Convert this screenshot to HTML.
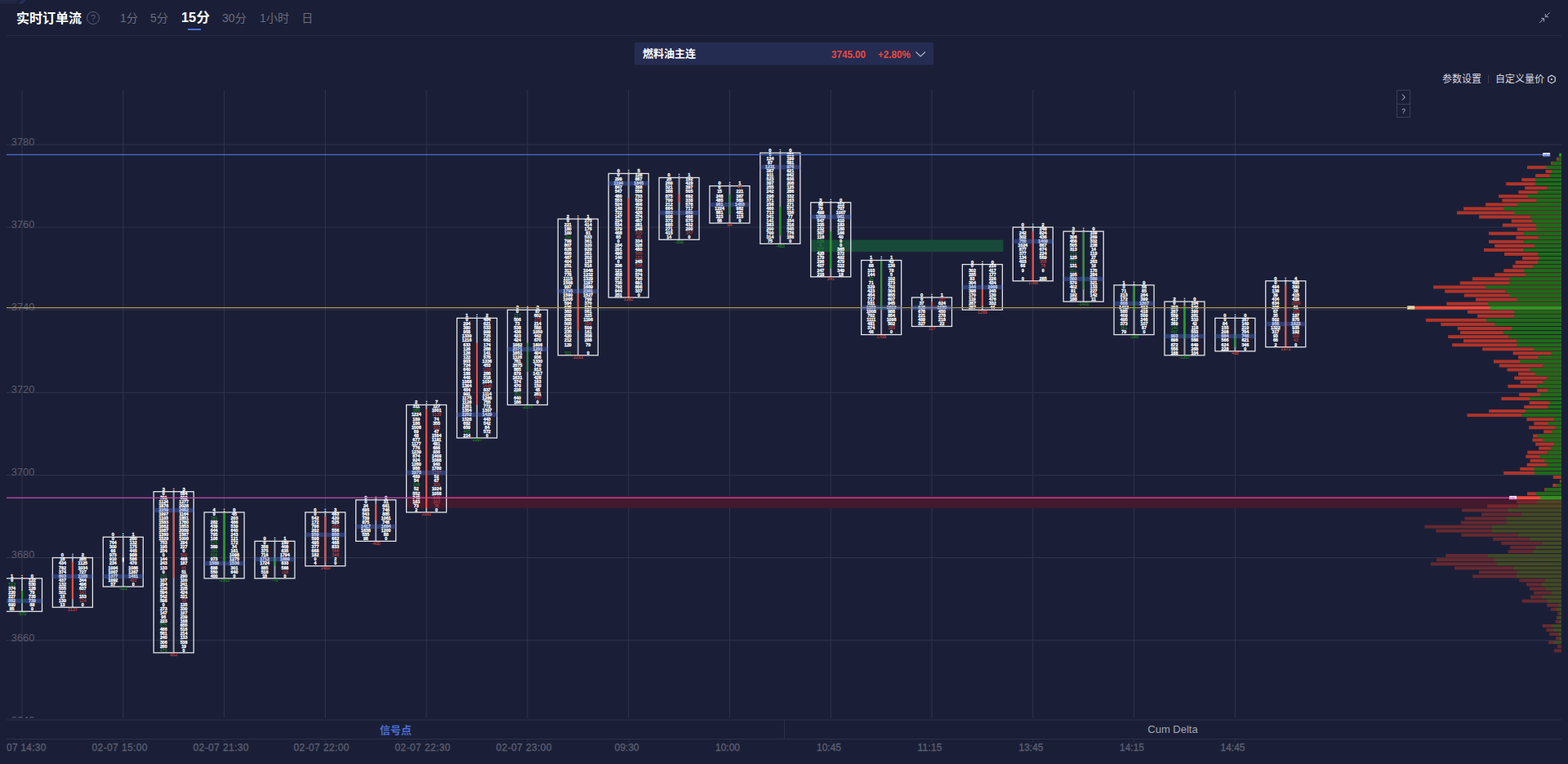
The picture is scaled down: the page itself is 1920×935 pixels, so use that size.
<!DOCTYPE html><html><head><meta charset="utf-8"><title>Order Flow</title><style>html,body{margin:0;padding:0;background:#1a1f37;width:1920px;height:935px;overflow:hidden}svg{display:block;font-family:"Liberation Sans",sans-serif}.n{font-weight:bold;fill:#f4f4f6;text-anchor:middle}.g{fill:#239a23}.r{fill:#e04a3c}.d{font-weight:normal;text-anchor:middle}</style></head><body>
<svg width="1920" height="935" viewBox="0 0 1920 935">
<rect width="1920" height="935" fill="#1a1f37"/>
<path d="M0 0H23.5L19 4.8H0Z" fill="#202644"/><path d="M26.8 0H32L27.3 4.8H22.2Z" fill="#263058"/>
<text x="20" y="27.6" font-size="16" font-weight="bold" fill="#ffffff" font-family="'Liberation Sans','Noto Sans CJK SC',sans-serif">实时订单流</text>
<circle cx="114" cy="22" r="7.5" fill="none" stroke="#5b5e70" stroke-width="1"/>
<text x="114" y="26" font-size="11" text-anchor="middle" fill="#5b5e70">?</text>
<text x="147" y="26.7" font-size="14" fill="#6a6d7c">1</text>
<text x="155" y="26.7" font-size="14" fill="#6a6d7c" font-family="'Liberation Sans','Noto Sans CJK SC',sans-serif">分</text>
<text x="184" y="26.7" font-size="14" fill="#6a6d7c">5</text>
<text x="192" y="26.7" font-size="14" fill="#6a6d7c" font-family="'Liberation Sans','Noto Sans CJK SC',sans-serif">分</text>
<text x="222" y="27.3" font-size="16.4" fill="#ffffff" font-weight="bold">15</text>
<text x="240.4" y="27.3" font-size="16.4" font-weight="bold" fill="#ffffff" font-family="'Liberation Sans','Noto Sans CJK SC',sans-serif">分</text>
<text x="272" y="26.7" font-size="14" fill="#6a6d7c">30</text>
<text x="287.8" y="26.7" font-size="14" fill="#6a6d7c" font-family="'Liberation Sans','Noto Sans CJK SC',sans-serif">分</text>
<text x="318" y="26.7" font-size="14" fill="#6a6d7c">1</text>
<text x="326" y="26.7" font-size="14" fill="#6a6d7c" font-family="'Liberation Sans','Noto Sans CJK SC',sans-serif">小时</text>
<text x="369.3" y="26.7" font-size="14" fill="#6a6d7c" font-family="'Liberation Sans','Noto Sans CJK SC',sans-serif">日</text>
<rect x="230" y="35" width="16" height="2" fill="#4b6ed6"/>
<rect x="8" y="43" width="1904" height="1" fill="#262a40"/>
<g stroke="#a2a4b2" stroke-width="1" fill="none"><path d="M1897.8 15.2L1892.3 20.7M1892.3 17V20.7H1896.1M1885.1 27.8L1890.6 22.5M1887.2 22.5H1890.6V26.4"/></g>
<rect x="777" y="52" width="366" height="27.5" rx="2" fill="#252c52"/>
<text x="787" y="70" font-size="13" font-weight="bold" fill="#ffffff" font-family="'Liberation Sans','Noto Sans CJK SC',sans-serif">燃料油主连</text>
<text x="1018" y="71" font-size="12" font-weight="bold" fill="#f0483e" textLength="42" lengthAdjust="spacingAndGlyphs">3745.00</text>
<text x="1075" y="71" font-size="12" font-weight="bold" fill="#f0483e" textLength="40" lengthAdjust="spacingAndGlyphs">+2.80%</text>
<path d="M1121.5 63.5L1127.2 69L1133 63.5" fill="none" stroke="#b4b6c2" stroke-width="1.1"/>
<text x="1766" y="101.2" font-size="12" fill="#d9dae2" font-family="'Liberation Sans','Noto Sans CJK SC',sans-serif">参数设置</text>
<rect x="1822" y="92" width="1" height="10" fill="#3a3e55"/>
<text x="1831" y="101.2" font-size="12" fill="#d9dae2" font-family="'Liberation Sans','Noto Sans CJK SC',sans-serif">自定义量价</text>
<path d="M1900 92.2L1904.2 94.6V99.5L1900 101.9L1895.8 99.5V94.6Z" fill="none" stroke="#d9dae2" stroke-width="1.2"/><circle cx="1900" cy="97.1" r="1.1" fill="#d9dae2"/>
<rect x="1710.5" y="110.5" width="16" height="17" fill="none" stroke="#3a3e55"/><rect x="1710.5" y="127.5" width="16" height="16" fill="none" stroke="#3a3e55"/>
<path d="M1717 115.5L1720.3 119L1717 122.5" fill="none" stroke="#c9cad4" stroke-width="1"/>
<text x="1718.5" y="139.3" font-size="8.5" text-anchor="middle" fill="#b9bac6">?</text>
<defs><clipPath id="cc"><rect x="8" y="100" width="1904" height="779"/></clipPath></defs>
<g clip-path="url(#cc)">
<rect x="26.5" y="110" width="1" height="771" fill="#30344b"/>
<rect x="150.28" y="110" width="1" height="771" fill="#30344b"/>
<rect x="274.06" y="110" width="1" height="771" fill="#30344b"/>
<rect x="397.84" y="110" width="1" height="771" fill="#30344b"/>
<rect x="521.62" y="110" width="1" height="771" fill="#30344b"/>
<rect x="645.4" y="110" width="1" height="771" fill="#30344b"/>
<rect x="769.18" y="110" width="1" height="771" fill="#30344b"/>
<rect x="892.96" y="110" width="1" height="771" fill="#30344b"/>
<rect x="1016.74" y="110" width="1" height="771" fill="#30344b"/>
<rect x="1140.52" y="110" width="1" height="771" fill="#30344b"/>
<rect x="1264.3" y="110" width="1" height="771" fill="#30344b"/>
<rect x="1388.08" y="110" width="1" height="771" fill="#30344b"/>
<rect x="1511.86" y="110" width="1" height="771" fill="#30344b"/>
<rect x="8" y="176.5" width="1904" height="1" fill="#30344b"/>
<text x="13.8" y="177.9" font-size="12.8" fill="#595c6d">3780</text>
<rect x="8" y="277.61" width="1904" height="1" fill="#30344b"/>
<text x="13.8" y="279.01" font-size="12.8" fill="#595c6d">3760</text>
<rect x="8" y="378.72" width="1904" height="1" fill="#30344b"/>
<text x="13.8" y="380.12" font-size="12.8" fill="#595c6d">3740</text>
<rect x="8" y="479.84" width="1904" height="1" fill="#30344b"/>
<text x="13.8" y="481.24" font-size="12.8" fill="#595c6d">3720</text>
<rect x="8" y="580.95" width="1904" height="1" fill="#30344b"/>
<text x="13.8" y="582.35" font-size="12.8" fill="#595c6d">3700</text>
<rect x="8" y="682.06" width="1904" height="1" fill="#30344b"/>
<text x="13.8" y="683.46" font-size="12.8" fill="#595c6d">3680</text>
<rect x="8" y="783.17" width="1904" height="1" fill="#30344b"/>
<text x="13.8" y="784.57" font-size="12.8" fill="#595c6d">3660</text>
<rect x="8" y="884.28" width="1904" height="1" fill="#30344b"/>
<text x="13.8" y="885.68" font-size="12.8" fill="#595c6d">3640</text>
<rect x="992" y="293.58" width="236.5" height="14.57" fill="#184a3a"/>
<rect x="497" y="607" width="1415" height="14.8" fill="#43192e"/>
<rect x="26" y="707.84" width="2" height="40.44" fill="#a2a3ae"/>
<rect x="26.05" y="723" width="1.9" height="15.17" fill="#1f9d1f"/>
<rect x="2.5" y="707.84" width="49" height="40.44" fill="none" stroke="#e4e4ea" stroke-width="1.3"/>
<rect x="87.89" y="682.56" width="2" height="60.67" fill="#a2a3ae"/>
<rect x="87.94" y="687.62" width="1.9" height="45.5" fill="#f04a3c"/>
<rect x="64.39" y="682.56" width="49" height="60.67" fill="none" stroke="#e4e4ea" stroke-width="1.3"/>
<rect x="149.78" y="657.28" width="2" height="60.67" fill="#a2a3ae"/>
<rect x="149.83" y="682.56" width="1.9" height="5.06" fill="#ffffff"/>
<rect x="126.28" y="657.28" width="49" height="60.67" fill="none" stroke="#e4e4ea" stroke-width="1.3"/>
<rect x="211.67" y="601.67" width="2" height="197.17" fill="#a2a3ae"/>
<rect x="211.72" y="626.95" width="1.9" height="80.89" fill="#f04a3c"/>
<rect x="188.17" y="601.67" width="49" height="197.17" fill="none" stroke="#e4e4ea" stroke-width="1.3"/>
<rect x="273.56" y="626.95" width="2" height="80.89" fill="#a2a3ae"/>
<rect x="273.61" y="626.95" width="1.9" height="60.67" fill="#1f9d1f"/>
<rect x="250.06" y="626.95" width="49" height="80.89" fill="none" stroke="#e4e4ea" stroke-width="1.3"/>
<rect x="335.45" y="662.34" width="2" height="45.5" fill="#a2a3ae"/>
<rect x="335.5" y="682.56" width="1.9" height="10.11" fill="#1f9d1f"/>
<rect x="311.95" y="662.34" width="49" height="45.5" fill="none" stroke="#e4e4ea" stroke-width="1.3"/>
<rect x="397.34" y="626.95" width="2" height="65.72" fill="#a2a3ae"/>
<rect x="397.39" y="632" width="1.9" height="55.61" fill="#f04a3c"/>
<rect x="373.84" y="626.95" width="49" height="65.72" fill="none" stroke="#e4e4ea" stroke-width="1.3"/>
<rect x="459.23" y="611.78" width="2" height="50.56" fill="#a2a3ae"/>
<rect x="459.28" y="616.84" width="1.9" height="20.22" fill="#f04a3c"/>
<rect x="435.73" y="611.78" width="49" height="50.56" fill="none" stroke="#e4e4ea" stroke-width="1.3"/>
<rect x="521.12" y="495.5" width="2" height="131.45" fill="#a2a3ae"/>
<rect x="521.17" y="500.56" width="1.9" height="121.33" fill="#f04a3c"/>
<rect x="497.62" y="495.5" width="49" height="131.45" fill="none" stroke="#e4e4ea" stroke-width="1.3"/>
<rect x="583.01" y="389.34" width="2" height="146.61" fill="#a2a3ae"/>
<rect x="583.06" y="419.67" width="1.9" height="75.83" fill="#f04a3c"/>
<rect x="559.51" y="389.34" width="49" height="146.61" fill="none" stroke="#e4e4ea" stroke-width="1.3"/>
<rect x="644.9" y="379.22" width="2" height="116.28" fill="#a2a3ae"/>
<rect x="644.95" y="419.67" width="1.9" height="35.39" fill="#1f9d1f"/>
<rect x="621.4" y="379.22" width="49" height="116.28" fill="none" stroke="#e4e4ea" stroke-width="1.3"/>
<rect x="706.79" y="268" width="2" height="166.83" fill="#a2a3ae"/>
<rect x="706.84" y="359" width="1.9" height="45.5" fill="#f04a3c"/>
<rect x="683.29" y="268" width="49" height="166.83" fill="none" stroke="#e4e4ea" stroke-width="1.3"/>
<rect x="768.68" y="212.39" width="2" height="151.67" fill="#a2a3ae"/>
<rect x="768.73" y="242.72" width="1.9" height="121.33" fill="#f04a3c"/>
<rect x="745.18" y="212.39" width="49" height="151.67" fill="none" stroke="#e4e4ea" stroke-width="1.3"/>
<rect x="830.57" y="217.44" width="2" height="75.83" fill="#a2a3ae"/>
<rect x="830.62" y="237.67" width="1.9" height="10.11" fill="#f04a3c"/>
<rect x="807.07" y="217.44" width="49" height="75.83" fill="none" stroke="#e4e4ea" stroke-width="1.3"/>
<rect x="892.46" y="227.56" width="2" height="45.5" fill="#a2a3ae"/>
<rect x="892.51" y="237.67" width="1.9" height="25.28" fill="#1f9d1f"/>
<rect x="868.96" y="227.56" width="49" height="45.5" fill="none" stroke="#e4e4ea" stroke-width="1.3"/>
<rect x="954.35" y="187.11" width="2" height="111.22" fill="#a2a3ae"/>
<rect x="954.4" y="252.83" width="1.9" height="35.39" fill="#1f9d1f"/>
<rect x="930.85" y="187.11" width="49" height="111.22" fill="none" stroke="#e4e4ea" stroke-width="1.3"/>
<rect x="1016.24" y="247.78" width="2" height="91" fill="#a2a3ae"/>
<rect x="1016.29" y="283.17" width="1.9" height="45.5" fill="#1f9d1f"/>
<rect x="992.74" y="247.78" width="49" height="91" fill="none" stroke="#e4e4ea" stroke-width="1.3"/>
<rect x="1078.13" y="318.56" width="2" height="91" fill="#a2a3ae"/>
<rect x="1078.18" y="318.56" width="1.9" height="60.67" fill="#1f9d1f"/>
<rect x="1054.63" y="318.56" width="49" height="91" fill="none" stroke="#e4e4ea" stroke-width="1.3"/>
<rect x="1140.02" y="364.06" width="2" height="35.39" fill="#a2a3ae"/>
<rect x="1140.07" y="369.11" width="1.9" height="10.11" fill="#f04a3c"/>
<rect x="1116.52" y="364.06" width="49" height="35.39" fill="none" stroke="#e4e4ea" stroke-width="1.3"/>
<rect x="1201.91" y="323.61" width="2" height="55.61" fill="#a2a3ae"/>
<rect x="1201.96" y="353.95" width="1.9" height="20.22" fill="#f04a3c"/>
<rect x="1178.41" y="323.61" width="49" height="55.61" fill="none" stroke="#e4e4ea" stroke-width="1.3"/>
<rect x="1263.8" y="278.11" width="2" height="65.72" fill="#a2a3ae"/>
<rect x="1263.85" y="283.17" width="1.9" height="60.67" fill="#f04a3c"/>
<rect x="1240.3" y="278.11" width="49" height="65.72" fill="none" stroke="#e4e4ea" stroke-width="1.3"/>
<rect x="1325.69" y="283.17" width="2" height="85.95" fill="#a2a3ae"/>
<rect x="1325.74" y="283.17" width="1.9" height="70.78" fill="#1f9d1f"/>
<rect x="1302.19" y="283.17" width="49" height="85.95" fill="none" stroke="#e4e4ea" stroke-width="1.3"/>
<rect x="1387.58" y="348.89" width="2" height="60.67" fill="#a2a3ae"/>
<rect x="1387.63" y="348.89" width="1.9" height="30.33" fill="#1f9d1f"/>
<rect x="1364.08" y="348.89" width="49" height="60.67" fill="none" stroke="#e4e4ea" stroke-width="1.3"/>
<rect x="1449.47" y="369.11" width="2" height="65.72" fill="#a2a3ae"/>
<rect x="1449.52" y="374.17" width="1.9" height="40.44" fill="#1f9d1f"/>
<rect x="1425.97" y="369.11" width="49" height="65.72" fill="none" stroke="#e4e4ea" stroke-width="1.3"/>
<rect x="1511.36" y="389.34" width="2" height="40.44" fill="#a2a3ae"/>
<rect x="1511.41" y="409.56" width="1.9" height="15.17" fill="#1f9d1f"/>
<rect x="1487.86" y="389.34" width="49" height="40.44" fill="none" stroke="#e4e4ea" stroke-width="1.3"/>
<rect x="1573.25" y="343.83" width="2" height="80.89" fill="#a2a3ae"/>
<rect x="1573.3" y="348.89" width="1.9" height="75.83" fill="#f04a3c"/>
<rect x="1549.75" y="343.83" width="49" height="80.89" fill="none" stroke="#e4e4ea" stroke-width="1.3"/>
<g fill="#ffffff" stroke="#ffffff" stroke-width="0.28" font-size="5.25" font-weight="bold" text-anchor="middle">
<g font-size="5.8">
<text y="706.74"><tspan x="14.6">1</tspan><tspan x="27">:</tspan><tspan x="39.4">0</tspan></text>
<text y="681.46"><tspan x="76.49">0</tspan><tspan x="88.89">:</tspan><tspan x="101.29">2</tspan></text>
<text y="656.18"><tspan x="138.38">0</tspan><tspan x="150.78">:</tspan><tspan x="163.18">1</tspan></text>
<text y="600.57"><tspan x="200.27">3</tspan><tspan x="212.67">:</tspan><tspan x="225.07">3</tspan></text>
<text y="625.85"><tspan x="262.16">4</tspan><tspan x="274.56">:</tspan><tspan x="286.96">0</tspan></text>
<text y="661.24"><tspan x="324.05">0</tspan><tspan x="336.45">:</tspan><tspan x="348.85">1</tspan></text>
<text y="625.85"><tspan x="385.94">0</tspan><tspan x="398.34">:</tspan><tspan x="410.74">3</tspan></text>
<text y="610.68"><tspan x="447.83">0</tspan><tspan x="460.23">:</tspan><tspan x="472.63">0</tspan></text>
<text y="494.4"><tspan x="509.72">2</tspan><tspan x="522.12">:</tspan><tspan x="534.52">7</tspan></text>
<text y="388.24"><tspan x="571.61">1</tspan><tspan x="584.01">:</tspan><tspan x="596.41">2</tspan></text>
<text y="378.12"><tspan x="633.5">2</tspan><tspan x="645.9">:</tspan><tspan x="658.3">2</tspan></text>
<text y="266.9"><tspan x="695.39">2</tspan><tspan x="707.79">:</tspan><tspan x="720.19">1</tspan></text>
<text y="211.29"><tspan x="757.28">0</tspan><tspan x="769.68">:</tspan><tspan x="782.08">5</tspan></text>
<text y="216.34"><tspan x="819.17">0</tspan><tspan x="831.57">:</tspan><tspan x="843.97">1</tspan></text>
<text y="226.46"><tspan x="881.06">0</tspan><tspan x="893.46">:</tspan><tspan x="905.86">1</tspan></text>
<text y="186.01"><tspan x="942.95">0</tspan><tspan x="955.35">:</tspan><tspan x="967.75">0</tspan></text>
<text y="246.68"><tspan x="1004.84">3</tspan><tspan x="1017.24">:</tspan><tspan x="1029.64">0</tspan></text>
<text y="317.46"><tspan x="1066.73">1</tspan><tspan x="1079.13">:</tspan><tspan x="1091.53">1</tspan></text>
<text y="362.96"><tspan x="1128.62">0</tspan><tspan x="1141.02">:</tspan><tspan x="1153.42">1</tspan></text>
<text y="322.51"><tspan x="1190.51">0</tspan><tspan x="1202.91">:</tspan><tspan x="1215.31">0</tspan></text>
<text y="277.01"><tspan x="1252.4">0</tspan><tspan x="1264.8">:</tspan><tspan x="1277.2">2</tspan></text>
<text y="282.07"><tspan x="1314.29">3</tspan><tspan x="1326.69">:</tspan><tspan x="1339.09">0</tspan></text>
<text y="347.79"><tspan x="1376.18">1</tspan><tspan x="1388.58">:</tspan><tspan x="1400.98">0</tspan></text>
<text y="368.01"><tspan x="1438.07">2</tspan><tspan x="1450.47">:</tspan><tspan x="1462.87">0</tspan></text>
<text y="388.24"><tspan x="1499.96">0</tspan><tspan x="1512.36">:</tspan><tspan x="1524.76">0</tspan></text>
<text y="342.73"><tspan x="1561.85">0</tspan><tspan x="1574.25">:</tspan><tspan x="1586.65">4</tspan></text>
</g>
<g transform="translate(14.6)"><text y="712">0</text><text y="722">374</text><text y="727">220</text><text y="732">227</text><text y="737">882</text><text y="742">690</text><text y="747">85</text></g>
<g transform="translate(39.4)"><text y="712">122</text><text y="717">530</text><text y="722">128</text><text y="727">79</text><text y="732">735</text><text y="737">739</text><text y="742">88</text><text y="747">0</text></g>
<g transform="translate(76.49)"><text y="686">18</text><text y="691">434</text><text y="697">782</text><text y="702">374</text><text y="707">803</text><text y="712">437</text><text y="717">132</text><text y="722">555</text><text y="727">301</text><text y="732">15</text><text y="737">130</text><text y="742">13</text></g>
<g transform="translate(101.29)"><text y="686">285</text><text y="691">1125</text><text y="697">1034</text><text y="702">727</text><text y="707">1103</text><text y="712">344</text><text y="717">496</text><text y="722">637</text><text y="732">153</text><text y="742">0</text></g>
<g transform="translate(138.38)"><text y="661">0</text><text y="666">764</text><text y="671">300</text><text y="676">66</text><text y="681">973</text><text y="686">910</text><text y="691">234</text><text y="697">1094</text><text y="702">1007</text><text y="707">1377</text><text y="712">1092</text><text y="717">57</text></g>
<g transform="translate(163.18)"><text y="661">280</text><text y="666">132</text><text y="671">175</text><text y="676">445</text><text y="681">988</text><text y="686">586</text><text y="691">470</text><text y="697">1086</text><text y="702">1287</text><text y="707">1481</text><text y="717">0</text></g>
<g transform="translate(200.27)"><text y="606">0</text><text y="611">791</text><text y="616">1124</text><text y="621">1878</text><text y="626">2259</text><text y="631">1997</text><text y="636">1103</text><text y="641">1583</text><text y="646">1662</text><text y="651">1087</text><text y="656">1360</text><text y="661">1529</text><text y="666">753</text><text y="671">195</text><text y="676">234</text><text y="681">0</text><text y="686">144</text><text y="691">243</text><text y="697">133</text><text y="702">0</text><text y="712">107</text><text y="717">294</text><text y="722">129</text><text y="727">594</text><text y="732">542</text><text y="737">596</text><text y="742">0</text><text y="747">273</text><text y="752">147</text><text y="757">96</text><text y="762">223</text><text y="772">466</text><text y="777">561</text><text y="782">240</text><text y="788">306</text><text y="793">260</text></g>
<g transform="translate(225.07)"><text y="606">584</text><text y="611">802</text><text y="616">1277</text><text y="621">2028</text><text y="626">2682</text><text y="631">1164</text><text y="636">1851</text><text y="641">1780</text><text y="646">1653</text><text y="651">2069</text><text y="656">1567</text><text y="661">1000</text><text y="666">294</text><text y="671">227</text><text y="676">0</text><text y="686">466</text><text y="691">187</text><text y="702">51</text><text y="707">290</text><text y="712">100</text><text y="717">241</text><text y="722">228</text><text y="727">424</text><text y="732">321</text><text y="742">135</text><text y="747">330</text><text y="752">107</text><text y="757">239</text><text y="762">168</text><text y="767">655</text><text y="772">516</text><text y="777">214</text><text y="782">133</text><text y="788">538</text><text y="793">19</text><text y="798">0</text></g>
<g transform="translate(262.16)"><text y="631">0</text><text y="641">282</text><text y="646">439</text><text y="651">644</text><text y="656">795</text><text y="661">106</text><text y="671">389</text><text y="686">973</text><text y="691">1589</text><text y="697">888</text><text y="702">550</text><text y="707">400</text></g>
<g transform="translate(286.96)"><text y="631">45</text><text y="636">203</text><text y="641">486</text><text y="646">539</text><text y="651">640</text><text y="656">243</text><text y="661">121</text><text y="666">172</text><text y="671">34</text><text y="676">161</text><text y="681">1096</text><text y="686">1275</text><text y="691">1538</text><text y="697">301</text><text y="702">640</text><text y="707">0</text></g>
<g transform="translate(324.05)"><text y="666">0</text><text y="671">356</text><text y="676">375</text><text y="681">716</text><text y="686">1712</text><text y="691">1724</text><text y="697">885</text><text y="702">518</text><text y="707">18</text></g>
<g transform="translate(348.85)"><text y="666">160</text><text y="671">408</text><text y="676">635</text><text y="681">1794</text><text y="686">1689</text><text y="691">833</text><text y="697">588</text><text y="707">0</text></g>
<g transform="translate(385.94)"><text y="631">0</text><text y="636">542</text><text y="641">172</text><text y="646">796</text><text y="651">202</text><text y="656">959</text><text y="661">598</text><text y="666">495</text><text y="671">377</text><text y="676">668</text><text y="681">182</text><text y="686">0</text><text y="691">4</text></g>
<g transform="translate(410.74)"><text y="631">483</text><text y="636">420</text><text y="641">525</text><text y="651">556</text><text y="656">858</text><text y="661">662</text><text y="666">468</text><text y="671">833</text><text y="686">2</text><text y="691">0</text></g>
<g transform="translate(447.83)"><text y="616">0</text><text y="621">24</text><text y="626">695</text><text y="631">543</text><text y="636">739</text><text y="641">875</text><text y="646">1417</text><text y="651">1638</text><text y="656">535</text><text y="661">98</text></g>
<g transform="translate(472.63)"><text y="616">31</text><text y="621">661</text><text y="626">746</text><text y="631">885</text><text y="636">1061</text><text y="641">748</text><text y="646">1684</text><text y="651">1200</text><text y="656">88</text><text y="661">0</text></g>
<g transform="translate(509.72)"><text y="499">311</text><text y="509">1224</text><text y="515">189</text><text y="520">186</text><text y="525">1008</text><text y="530">69</text><text y="535">48</text><text y="540">677</text><text y="545">1177</text><text y="550">776</text><text y="555">1239</text><text y="560">874</text><text y="565">924</text><text y="570">1280</text><text y="575">988</text><text y="580">1973</text><text y="585">489</text><text y="590">54</text><text y="600">52</text><text y="606">552</text><text y="611">745</text><text y="616">163</text><text y="621">73</text><text y="626">2</text></g>
<g transform="translate(534.52)"><text y="499">127</text><text y="504">1001</text><text y="515">74</text><text y="520">355</text><text y="530">47</text><text y="535">1564</text><text y="540">1181</text><text y="545">481</text><text y="550">686</text><text y="555">936</text><text y="560">1409</text><text y="565">1088</text><text y="570">940</text><text y="575">1780</text><text y="585">52</text><text y="590">67</text><text y="600">1024</text><text y="606">1058</text><text y="626">0</text></g>
<g transform="translate(571.61)"><text y="393">0</text><text y="398">294</text><text y="403">380</text><text y="408">958</text><text y="413">1339</text><text y="418">1216</text><text y="424">633</text><text y="429">126</text><text y="434">126</text><text y="439">122</text><text y="444">903</text><text y="449">724</text><text y="454">640</text><text y="459">186</text><text y="464">446</text><text y="469">1068</text><text y="474">1364</text><text y="479">454</text><text y="484">991</text><text y="489">1175</text><text y="494">1128</text><text y="499">1201</text><text y="504">1354</text><text y="509">2252</text><text y="515">1528</text><text y="520">692</text><text y="525">659</text><text y="535">214</text></g>
<g transform="translate(596.41)"><text y="393">484</text><text y="398">621</text><text y="403">533</text><text y="408">999</text><text y="413">725</text><text y="418">682</text><text y="424">174</text><text y="429">288</text><text y="434">141</text><text y="439">578</text><text y="444">1336</text><text y="449">453</text><text y="459">286</text><text y="464">518</text><text y="469">1034</text><text y="479">837</text><text y="484">1114</text><text y="489">1266</text><text y="494">755</text><text y="499">772</text><text y="504">1307</text><text y="509">1429</text><text y="515">443</text><text y="520">542</text><text y="525">84</text><text y="530">572</text><text y="535">0</text></g>
<g transform="translate(633.5)"><text y="383">0</text><text y="393">506</text><text y="398">73</text><text y="403">538</text><text y="408">438</text><text y="413">423</text><text y="418">424</text><text y="424">1082</text><text y="429">2371</text><text y="434">1651</text><text y="439">1126</text><text y="444">781</text><text y="449">2075</text><text y="454">885</text><text y="459">879</text><text y="464">1631</text><text y="469">374</text><text y="474">470</text><text y="479">228</text><text y="489">640</text><text y="494">186</text></g>
<g transform="translate(658.3)"><text y="383">87</text><text y="388">602</text><text y="398">214</text><text y="403">588</text><text y="408">1050</text><text y="413">442</text><text y="418">670</text><text y="424">1606</text><text y="429">1231</text><text y="434">404</text><text y="439">936</text><text y="444">1330</text><text y="449">740</text><text y="454">913</text><text y="459">1417</text><text y="464">428</text><text y="469">163</text><text y="474">150</text><text y="479">45</text><text y="484">261</text><text y="494">0</text></g>
<g transform="translate(695.39)"><text y="272">0</text><text y="277">221</text><text y="282">180</text><text y="287">100</text><text y="297">799</text><text y="302">807</text><text y="307">828</text><text y="312">606</text><text y="317">487</text><text y="322">404</text><text y="327">251</text><text y="333">311</text><text y="338">778</text><text y="343">1115</text><text y="348">1508</text><text y="353">997</text><text y="358">1795</text><text y="363">1590</text><text y="368">1005</text><text y="373">594</text><text y="378">635</text><text y="383">383</text><text y="388">209</text><text y="393">363</text><text y="398">505</text><text y="403">214</text><text y="408">235</text><text y="413">420</text><text y="418">212</text><text y="424">129</text></g>
<g transform="translate(720.19)"><text y="272">275</text><text y="277">414</text><text y="282">176</text><text y="287">81</text><text y="292">533</text><text y="297">361</text><text y="302">320</text><text y="307">929</text><text y="312">261</text><text y="317">202</text><text y="322">128</text><text y="327">516</text><text y="333">1046</text><text y="338">1232</text><text y="343">1329</text><text y="348">1197</text><text y="353">1689</text><text y="358">2381</text><text y="363">1527</text><text y="368">799</text><text y="373">370</text><text y="378">829</text><text y="383">561</text><text y="388">325</text><text y="393">1106</text><text y="403">509</text><text y="408">161</text><text y="413">358</text><text y="418">288</text><text y="424">79</text><text y="434">0</text></g>
<g transform="translate(757.28)"><text y="216">0</text><text y="221">299</text><text y="226">1194</text><text y="231">847</text><text y="236">547</text><text y="242">480</text><text y="247">553</text><text y="252">524</text><text y="257">148</text><text y="262">722</text><text y="267">147</text><text y="272">224</text><text y="277">534</text><text y="282">379</text><text y="287">468</text><text y="292">65</text><text y="297">0</text><text y="302">184</text><text y="307">291</text><text y="312">490</text><text y="317">140</text><text y="322">0</text><text y="327">336</text><text y="333">121</text><text y="338">458</text><text y="343">571</text><text y="348">730</text><text y="353">792</text><text y="358">944</text><text y="363">251</text></g>
<g transform="translate(782.08)"><text y="216">128</text><text y="221">867</text><text y="226">1845</text><text y="231">368</text><text y="236">556</text><text y="242">733</text><text y="247">529</text><text y="252">406</text><text y="257">729</text><text y="262">426</text><text y="267">374</text><text y="272">457</text><text y="277">281</text><text y="282">248</text><text y="297">334</text><text y="302">326</text><text y="307">460</text><text y="322">245</text><text y="333">346</text><text y="338">574</text><text y="343">795</text><text y="348">691</text><text y="353">806</text><text y="358">337</text><text y="363">0</text></g>
<g transform="translate(819.17)"><text y="221">28</text><text y="226">269</text><text y="231">321</text><text y="236">386</text><text y="242">875</text><text y="247">790</text><text y="252">212</text><text y="257">664</text><text y="262">883</text><text y="267">908</text><text y="272">373</text><text y="277">685</text><text y="282">271</text><text y="287">415</text><text y="292">14</text></g>
<g transform="translate(843.97)"><text y="221">192</text><text y="226">429</text><text y="231">397</text><text y="236">505</text><text y="242">692</text><text y="247">338</text><text y="252">578</text><text y="257">717</text><text y="262">860</text><text y="267">466</text><text y="272">575</text><text y="277">432</text><text y="282">200</text><text y="292">0</text></g>
<g transform="translate(881.06)"><text y="231">0</text><text y="236">15</text><text y="242">246</text><text y="247">485</text><text y="252">961</text><text y="257">1224</text><text y="262">861</text><text y="267">323</text><text y="272">56</text></g>
<g transform="translate(905.86)"><text y="236">221</text><text y="242">387</text><text y="247">569</text><text y="252">1453</text><text y="257">982</text><text y="262">481</text><text y="267">115</text><text y="272">0</text></g>
<g transform="translate(942.95)"><text y="191">0</text><text y="196">124</text><text y="201">87</text><text y="206">1231</text><text y="211">387</text><text y="216">911</text><text y="221">523</text><text y="226">397</text><text y="231">255</text><text y="236">242</text><text y="242">296</text><text y="247">371</text><text y="252">256</text><text y="257">460</text><text y="262">713</text><text y="267">341</text><text y="272">141</text><text y="277">383</text><text y="282">200</text><text y="287">700</text><text y="292">314</text><text y="297">75</text></g>
<g transform="translate(967.75)"><text y="191">151</text><text y="196">199</text><text y="201">581</text><text y="206">976</text><text y="211">621</text><text y="216">642</text><text y="221">636</text><text y="226">208</text><text y="231">125</text><text y="236">286</text><text y="242">332</text><text y="247">163</text><text y="252">271</text><text y="257">571</text><text y="262">156</text><text y="267">77</text><text y="272">154</text><text y="277">316</text><text y="282">545</text><text y="287">776</text><text y="292">156</text><text y="297">0</text></g>
<g transform="translate(1004.84)"><text y="252">88</text><text y="257">79</text><text y="262">499</text><text y="267">1568</text><text y="272">547</text><text y="277">335</text><text y="282">232</text><text y="287">307</text><text y="292">118</text><text y="312">428</text><text y="317">179</text><text y="322">296</text><text y="327">407</text><text y="333">247</text><text y="338">218</text></g>
<g transform="translate(1029.64)"><text y="252">112</text><text y="257">707</text><text y="262">1007</text><text y="267">961</text><text y="272">410</text><text y="277">183</text><text y="282">188</text><text y="287">166</text><text y="292">40</text><text y="297">0</text><text y="302">0</text><text y="307">365</text><text y="312">372</text><text y="317">492</text><text y="322">479</text><text y="327">322</text><text y="333">349</text><text y="338">18</text></g>
<g transform="translate(1066.73)"><text y="322">0</text><text y="327">88</text><text y="333">103</text><text y="338">144</text><text y="348">71</text><text y="353">329</text><text y="358">423</text><text y="363">454</text><text y="368">717</text><text y="373">531</text><text y="378">1159</text><text y="383">1008</text><text y="388">702</text><text y="393">1111</text><text y="398">481</text><text y="403">374</text><text y="408">46</text></g>
<g transform="translate(1091.53)"><text y="322">42</text><text y="327">136</text><text y="333">78</text><text y="338">5</text><text y="343">102</text><text y="348">273</text><text y="353">702</text><text y="358">304</text><text y="363">855</text><text y="368">607</text><text y="373">945</text><text y="378">1819</text><text y="383">988</text><text y="388">854</text><text y="393">1098</text><text y="398">502</text><text y="408">0</text></g>
<g transform="translate(1128.62)"><text y="368">0</text><text y="373">37</text><text y="378">828</text><text y="383">678</text><text y="388">221</text><text y="393">499</text><text y="398">327</text></g>
<g transform="translate(1153.42)"><text y="373">624</text><text y="378">1069</text><text y="383">450</text><text y="388">278</text><text y="393">218</text><text y="398">22</text></g>
<g transform="translate(1190.51)"><text y="327">0</text><text y="333">302</text><text y="338">285</text><text y="343">83</text><text y="348">304</text><text y="353">344</text><text y="358">398</text><text y="363">170</text><text y="368">119</text><text y="373">267</text><text y="378">287</text></g>
<g transform="translate(1215.31)"><text y="327">216</text><text y="333">417</text><text y="338">177</text><text y="343">226</text><text y="348">434</text><text y="353">1066</text><text y="358">245</text><text y="363">130</text><text y="368">476</text><text y="373">332</text><text y="378">44</text></g>
<g transform="translate(1252.4)"><text y="282">0</text><text y="287">242</text><text y="292">302</text><text y="297">750</text><text y="302">1024</text><text y="307">877</text><text y="312">377</text><text y="317">134</text><text y="322">403</text><text y="327">66</text><text y="333">9</text><text y="343">0</text></g>
<g transform="translate(1277.2)"><text y="282">248</text><text y="287">824</text><text y="292">436</text><text y="297">1409</text><text y="302">867</text><text y="307">674</text><text y="312">224</text><text y="317">569</text><text y="333">0</text><text y="343">285</text></g>
<g transform="translate(1314.29)"><text y="287">0</text><text y="292">306</text><text y="297">456</text><text y="302">505</text><text y="307">313</text><text y="317">125</text><text y="327">131</text><text y="338">105</text><text y="343">560</text><text y="348">570</text><text y="353">402</text><text y="358">81</text><text y="363">192</text><text y="368">188</text></g>
<g transform="translate(1339.09)"><text y="287">109</text><text y="292">269</text><text y="297">332</text><text y="302">238</text><text y="307">14</text><text y="312">119</text><text y="317">27</text><text y="322">263</text><text y="327">16</text><text y="333">170</text><text y="338">284</text><text y="343">589</text><text y="348">321</text><text y="353">133</text><text y="358">227</text><text y="363">142</text><text y="368">11</text></g>
<g transform="translate(1376.18)"><text y="353">0</text><text y="358">71</text><text y="363">213</text><text y="368">172</text><text y="373">608</text><text y="378">1412</text><text y="383">585</text><text y="388">409</text><text y="393">495</text><text y="398">373</text><text y="408">79</text></g>
<g transform="translate(1400.98)"><text y="353">56</text><text y="358">85</text><text y="363">264</text><text y="368">399</text><text y="373">1307</text><text y="378">412</text><text y="383">418</text><text y="388">509</text><text y="393">246</text><text y="398">107</text><text y="403">87</text><text y="408">0</text></g>
<g transform="translate(1438.07)"><text y="373">0</text><text y="378">203</text><text y="383">267</text><text y="388">559</text><text y="393">417</text><text y="398">369</text><text y="413">903</text><text y="418">898</text><text y="424">872</text><text y="429">556</text><text y="434">188</text></g>
<g transform="translate(1462.87)"><text y="373">104</text><text y="378">346</text><text y="383">390</text><text y="388">281</text><text y="393">310</text><text y="398">42</text><text y="403">118</text><text y="408">553</text><text y="413">824</text><text y="418">588</text><text y="424">649</text><text y="429">268</text><text y="434">104</text></g>
<g transform="translate(1499.96)"><text y="393">0</text><text y="398">84</text><text y="403">155</text><text y="408">208</text><text y="413">684</text><text y="418">566</text><text y="424">624</text><text y="429">228</text></g>
<g transform="translate(1524.76)"><text y="393">167</text><text y="398">149</text><text y="403">219</text><text y="408">704</text><text y="413">746</text><text y="418">621</text><text y="424">346</text><text y="429">0</text></g>
<g transform="translate(1561.85)"><text y="348">0</text><text y="353">494</text><text y="358">138</text><text y="363">39</text><text y="368">434</text><text y="373">634</text><text y="378">298</text><text y="383">67</text><text y="388">35</text><text y="393">502</text><text y="398">956</text><text y="403">1322</text><text y="408">317</text><text y="413">93</text><text y="418">68</text><text y="424">2</text></g>
<g transform="translate(1586.65)"><text y="348">405</text><text y="353">390</text><text y="358">38</text><text y="363">415</text><text y="368">416</text><text y="378">61</text><text y="388">197</text><text y="393">875</text><text y="398">1823</text><text y="403">935</text><text y="408">192</text><text y="424">0</text></g>
</g>
<g fill="#e04a3c" font-size="5.1" text-anchor="middle">
<text x="101.29" y="727">141</text><text x="101.29" y="737">124</text>
<text x="163.18" y="712">422</text>
<text x="225.07" y="681">502</text><text x="225.07" y="697">65</text><text x="225.07" y="737">59</text>
<text x="348.85" y="702">118</text>
<text x="410.74" y="646">655</text><text x="410.74" y="676">588</text><text x="410.74" y="681">348</text>
<text x="534.52" y="509">1139</text><text x="534.52" y="525">333</text><text x="534.52" y="580">1727</text><text x="534.52" y="595">309</text><text x="534.52" y="611">646</text><text x="534.52" y="616">202</text><text x="534.52" y="621">76</text>
<text x="596.41" y="454">1110</text><text x="596.41" y="474">1446</text>
<text x="658.3" y="393">379</text><text x="658.3" y="489">767</text>
<text x="720.19" y="398">694</text>
<text x="782.08" y="287">315</text><text x="782.08" y="292">65</text><text x="782.08" y="312">569</text><text x="782.08" y="317">153</text><text x="782.08" y="327">558</text>
<text x="843.97" y="287">157</text>
<text x="905.86" y="231">47</text>
<text x="1091.53" y="403">189</text>
<text x="1153.42" y="368">157</text>
<text x="1277.2" y="322">358</text><text x="1277.2" y="327">78</text>
<text x="1586.65" y="373">1009</text><text x="1586.65" y="383">163</text><text x="1586.65" y="413">310</text><text x="1586.65" y="418">43</text>
</g>
<g fill="#239a23" font-size="5.1" text-anchor="middle">
<text x="14.6" y="717">513</text>
<text x="200.27" y="707">231</text><text x="200.27" y="767">575</text><text x="200.27" y="798">479</text>
<text x="262.16" y="636">281</text><text x="262.16" y="666">625</text><text x="262.16" y="676">250</text><text x="262.16" y="681">826</text>
<text x="509.72" y="504">989</text><text x="509.72" y="595">248</text>
<text x="571.61" y="530">465</text>
<text x="633.5" y="388">217</text><text x="633.5" y="484">352</text>
<text x="695.39" y="292">291</text><text x="695.39" y="434">501</text>
<text x="1004.84" y="297">139</text><text x="1004.84" y="302">6</text><text x="1004.84" y="307">227</text>
<text x="1066.73" y="343">92</text>
<text x="1314.29" y="312">219</text><text x="1314.29" y="322">332</text><text x="1314.29" y="333">201</text>
<text x="1376.18" y="403">361</text>
<text x="1438.07" y="403">140</text><text x="1438.07" y="408">467</text>
</g>
<g fill="#dc483c" stroke="#dc483c" stroke-width="0.08" font-size="5.3" text-anchor="middle">
<text x="88.89" y="747.63">2127</text>
<text x="212.67" y="803.24">852</text>
<text x="398.34" y="697.07">1400</text>
<text x="460.23" y="666.74">-400</text>
<text x="522.12" y="631.35">2031</text>
<text x="707.79" y="439.24">2233</text>
<text x="769.68" y="368.46">1282</text>
<text x="893.46" y="277.46">84</text>
<text x="1017.24" y="343.18">341</text>
<text x="1079.13" y="413.96">1708</text>
<text x="1141.02" y="403.85">117</text>
<text x="1202.91" y="383.62">1289</text>
<text x="1264.8" y="348.23">1788</text>
<text x="1512.36" y="434.18">488</text>
<text x="1574.25" y="429.12">1973</text>
</g>
<g fill="#21921f" stroke="#21921f" stroke-width="0.08" font-size="5.3" text-anchor="middle">
<text x="27" y="752.68">-570</text>
<text x="150.78" y="722.35">-522</text>
<text x="274.56" y="712.24">-1563</text>
<text x="336.45" y="712.24">-79</text>
<text x="584.01" y="540.35">-2207</text>
<text x="645.9" y="499.9">-2077</text>
<text x="831.57" y="297.68">-356</text>
<text x="955.35" y="302.73">-483</text>
<text x="1326.69" y="373.51">-1400</text>
<text x="1388.58" y="413.96">-188</text>
<text x="1450.47" y="439.24">-1257</text>
</g>
<rect x="8" y="188.7" width="1881" height="1.2" fill="#4f72d8"/>
<rect x="8" y="376" width="1715" height="1.2" fill="#b2984f"/>
<rect x="8" y="608.6" width="1840" height="1.3" fill="#c44aa8"/>
<g fill="#5271d7" fill-opacity="0.37"><rect x="2" y="732.8" width="50" height="5.3"/><rect x="63.89" y="702.8" width="50" height="5.3"/><rect x="125.78" y="702.8" width="50" height="5.3"/><rect x="187.67" y="621.8" width="50" height="5.3"/><rect x="249.56" y="686.8" width="50" height="5.3"/><rect x="311.45" y="681.8" width="50" height="5.3"/><rect x="373.34" y="651.8" width="50" height="5.3"/><rect x="435.23" y="641.8" width="50" height="5.3"/><rect x="497.12" y="575.8" width="50" height="5.3"/><rect x="559.01" y="504.8" width="50" height="5.3"/><rect x="620.9" y="424.8" width="50" height="5.3"/><rect x="682.79" y="353.8" width="50" height="5.3"/><rect x="744.68" y="221.8" width="50" height="5.3"/><rect x="806.57" y="257.8" width="50" height="5.3"/><rect x="868.46" y="247.8" width="50" height="5.3"/><rect x="930.35" y="201.8" width="50" height="5.3"/><rect x="992.24" y="262.8" width="50" height="5.3"/><rect x="1054.13" y="373.8" width="50" height="5.3"/><rect x="1116.02" y="373.8" width="50" height="5.3"/><rect x="1177.91" y="348.8" width="50" height="5.3"/><rect x="1239.8" y="292.8" width="50" height="5.3"/><rect x="1301.69" y="338.8" width="50" height="5.3"/><rect x="1363.58" y="368.8" width="50" height="5.3"/><rect x="1425.47" y="408.8" width="50" height="5.3"/><rect x="1487.36" y="408.8" width="50" height="5.3"/><rect x="1549.25" y="393.8" width="50" height="5.3"/></g>
<rect x="1909.1" y="187.64" width="2.9" height="4" fill="#27991f"/>
<rect x="1905.9" y="192.7" width="6.1" height="4" fill="#ae342a"/>
<rect x="1908.2" y="192.7" width="3.8" height="4" fill="#1d6b18"/>
<rect x="1899.1" y="197.75" width="12.9" height="4" fill="#ae342a"/>
<rect x="1901" y="197.75" width="11" height="4" fill="#1d6b18"/>
<rect x="1870" y="202.81" width="42" height="4" fill="#ae342a"/>
<rect x="1893.3" y="202.81" width="18.7" height="4" fill="#1d6b18"/>
<rect x="1892.7" y="207.86" width="19.3" height="4" fill="#ae342a"/>
<rect x="1900" y="207.86" width="12" height="4" fill="#1d6b18"/>
<rect x="1880.1" y="212.92" width="31.9" height="4" fill="#ae342a"/>
<rect x="1897.2" y="212.92" width="14.8" height="4" fill="#1d6b18"/>
<rect x="1863.3" y="217.97" width="48.7" height="4" fill="#ae342a"/>
<rect x="1879.9" y="217.97" width="32.1" height="4" fill="#1d6b18"/>
<rect x="1844.1" y="223.03" width="67.9" height="4" fill="#ae342a"/>
<rect x="1879.9" y="223.03" width="32.1" height="4" fill="#1d6b18"/>
<rect x="1867.1" y="228.09" width="44.9" height="4" fill="#ae342a"/>
<rect x="1894" y="228.09" width="18" height="4" fill="#1d6b18"/>
<rect x="1859.3" y="233.14" width="52.7" height="4" fill="#ae342a"/>
<rect x="1882" y="233.14" width="30" height="4" fill="#1d6b18"/>
<rect x="1835" y="238.2" width="77" height="4" fill="#ae342a"/>
<rect x="1871" y="238.2" width="41" height="4" fill="#1d6b18"/>
<rect x="1839.3" y="243.25" width="72.7" height="4" fill="#ae342a"/>
<rect x="1881.3" y="243.25" width="30.7" height="4" fill="#1d6b18"/>
<rect x="1819.1" y="248.31" width="92.9" height="4" fill="#ae342a"/>
<rect x="1858" y="248.31" width="54" height="4" fill="#1d6b18"/>
<rect x="1792" y="253.36" width="120" height="4" fill="#ae342a"/>
<rect x="1841.1" y="253.36" width="70.9" height="4" fill="#1d6b18"/>
<rect x="1784" y="258.42" width="128" height="4" fill="#ae342a"/>
<rect x="1854.2" y="258.42" width="57.8" height="4" fill="#1d6b18"/>
<rect x="1811.1" y="263.48" width="100.9" height="4" fill="#ae342a"/>
<rect x="1874" y="263.48" width="38" height="4" fill="#1d6b18"/>
<rect x="1850.7" y="268.53" width="61.3" height="4" fill="#ae342a"/>
<rect x="1876.1" y="268.53" width="35.9" height="4" fill="#1d6b18"/>
<rect x="1839.8" y="273.59" width="72.2" height="4" fill="#ae342a"/>
<rect x="1881" y="273.59" width="31" height="4" fill="#1d6b18"/>
<rect x="1857.8" y="278.64" width="54.2" height="4" fill="#ae342a"/>
<rect x="1881.3" y="278.64" width="30.7" height="4" fill="#1d6b18"/>
<rect x="1823" y="283.7" width="89" height="4" fill="#ae342a"/>
<rect x="1865.5" y="283.7" width="46.5" height="4" fill="#1d6b18"/>
<rect x="1856.4" y="288.75" width="55.6" height="4" fill="#ae342a"/>
<rect x="1883.3" y="288.75" width="28.7" height="4" fill="#1d6b18"/>
<rect x="1823" y="293.81" width="89" height="4" fill="#ae342a"/>
<rect x="1865.2" y="293.81" width="46.8" height="4" fill="#1d6b18"/>
<rect x="1830.2" y="298.86" width="81.8" height="4" fill="#ae342a"/>
<rect x="1878.6" y="298.86" width="33.4" height="4" fill="#1d6b18"/>
<rect x="1817" y="303.92" width="95" height="4" fill="#ae342a"/>
<rect x="1865.1" y="303.92" width="46.9" height="4" fill="#1d6b18"/>
<rect x="1842.1" y="308.98" width="69.9" height="4" fill="#ae342a"/>
<rect x="1882.6" y="308.98" width="29.4" height="4" fill="#1d6b18"/>
<rect x="1864.1" y="314.03" width="47.9" height="4" fill="#ae342a"/>
<rect x="1884.4" y="314.03" width="27.6" height="4" fill="#1d6b18"/>
<rect x="1855.6" y="319.09" width="56.4" height="4" fill="#ae342a"/>
<rect x="1883.1" y="319.09" width="28.9" height="4" fill="#1d6b18"/>
<rect x="1852.3" y="324.14" width="59.7" height="4" fill="#ae342a"/>
<rect x="1876.9" y="324.14" width="35.1" height="4" fill="#1d6b18"/>
<rect x="1841.2" y="329.2" width="70.8" height="4" fill="#ae342a"/>
<rect x="1866" y="329.2" width="46" height="4" fill="#1d6b18"/>
<rect x="1830.2" y="334.25" width="81.8" height="4" fill="#ae342a"/>
<rect x="1868.1" y="334.25" width="43.9" height="4" fill="#1d6b18"/>
<rect x="1802.9" y="339.31" width="109.1" height="4" fill="#ae342a"/>
<rect x="1848.1" y="339.31" width="63.9" height="4" fill="#1d6b18"/>
<rect x="1787.7" y="344.36" width="124.3" height="4" fill="#ae342a"/>
<rect x="1848.1" y="344.36" width="63.9" height="4" fill="#1d6b18"/>
<rect x="1755.1" y="349.42" width="156.9" height="4" fill="#ae342a"/>
<rect x="1819.3" y="349.42" width="92.7" height="4" fill="#1d6b18"/>
<rect x="1769.2" y="354.48" width="142.8" height="4" fill="#ae342a"/>
<rect x="1843" y="354.48" width="69" height="4" fill="#1d6b18"/>
<rect x="1792.7" y="359.53" width="119.3" height="4" fill="#ae342a"/>
<rect x="1848.1" y="359.53" width="63.9" height="4" fill="#1d6b18"/>
<rect x="1807" y="364.59" width="105" height="4" fill="#ae342a"/>
<rect x="1857.2" y="364.59" width="54.8" height="4" fill="#1d6b18"/>
<rect x="1771.3" y="369.64" width="140.7" height="4" fill="#ae342a"/>
<rect x="1822.1" y="369.64" width="89.9" height="4" fill="#1d6b18"/>
<rect x="1732" y="374.7" width="180" height="4" fill="#f04a3c"/>
<rect x="1824.6" y="374.7" width="87.4" height="4" fill="#27991f"/>
<rect x="1797" y="379.75" width="115" height="4" fill="#ae342a"/>
<rect x="1854" y="379.75" width="58" height="4" fill="#1d6b18"/>
<rect x="1809" y="384.81" width="103" height="4" fill="#ae342a"/>
<rect x="1854" y="384.81" width="58" height="4" fill="#1d6b18"/>
<rect x="1746" y="389.87" width="166" height="4" fill="#ae342a"/>
<rect x="1820.2" y="389.87" width="91.8" height="4" fill="#1d6b18"/>
<rect x="1764.2" y="394.92" width="147.8" height="4" fill="#ae342a"/>
<rect x="1830.2" y="394.92" width="81.8" height="4" fill="#1d6b18"/>
<rect x="1784.7" y="399.98" width="127.3" height="4" fill="#ae342a"/>
<rect x="1851.2" y="399.98" width="60.8" height="4" fill="#1d6b18"/>
<rect x="1788.1" y="405.03" width="123.9" height="4" fill="#ae342a"/>
<rect x="1840.6" y="405.03" width="71.4" height="4" fill="#1d6b18"/>
<rect x="1773.2" y="410.09" width="138.8" height="4" fill="#ae342a"/>
<rect x="1847.1" y="410.09" width="64.9" height="4" fill="#1d6b18"/>
<rect x="1792" y="415.14" width="120" height="4" fill="#ae342a"/>
<rect x="1856.9" y="415.14" width="55.1" height="4" fill="#1d6b18"/>
<rect x="1778.1" y="420.2" width="133.9" height="4" fill="#ae342a"/>
<rect x="1857.2" y="420.2" width="54.8" height="4" fill="#1d6b18"/>
<rect x="1815.2" y="425.25" width="96.8" height="4" fill="#ae342a"/>
<rect x="1878" y="425.25" width="34" height="4" fill="#1d6b18"/>
<rect x="1852.6" y="430.31" width="59.4" height="4" fill="#ae342a"/>
<rect x="1899.7" y="430.31" width="12.3" height="4" fill="#1d6b18"/>
<rect x="1859" y="435.37" width="53" height="4" fill="#ae342a"/>
<rect x="1883.1" y="435.37" width="28.9" height="4" fill="#1d6b18"/>
<rect x="1828.9" y="440.42" width="83.1" height="4" fill="#ae342a"/>
<rect x="1861" y="440.42" width="51" height="4" fill="#1d6b18"/>
<rect x="1835.8" y="445.48" width="76.2" height="4" fill="#ae342a"/>
<rect x="1889.2" y="445.48" width="22.8" height="4" fill="#1d6b18"/>
<rect x="1845.5" y="450.53" width="66.5" height="4" fill="#ae342a"/>
<rect x="1873.3" y="450.53" width="38.7" height="4" fill="#1d6b18"/>
<rect x="1859" y="455.59" width="53" height="4" fill="#ae342a"/>
<rect x="1879.4" y="455.59" width="32.6" height="4" fill="#1d6b18"/>
<rect x="1854.2" y="460.64" width="57.8" height="4" fill="#ae342a"/>
<rect x="1894" y="460.64" width="18" height="4" fill="#1d6b18"/>
<rect x="1861.7" y="465.7" width="50.3" height="4" fill="#ae342a"/>
<rect x="1889.2" y="465.7" width="22.8" height="4" fill="#1d6b18"/>
<rect x="1846.4" y="470.75" width="65.6" height="4" fill="#ae342a"/>
<rect x="1881.5" y="470.75" width="30.5" height="4" fill="#1d6b18"/>
<rect x="1882.2" y="475.81" width="29.8" height="4" fill="#ae342a"/>
<rect x="1895.1" y="475.81" width="16.9" height="4" fill="#1d6b18"/>
<rect x="1860.1" y="480.87" width="51.9" height="4" fill="#ae342a"/>
<rect x="1886" y="480.87" width="26" height="4" fill="#1d6b18"/>
<rect x="1838.4" y="485.92" width="73.6" height="4" fill="#ae342a"/>
<rect x="1873.2" y="485.92" width="38.8" height="4" fill="#1d6b18"/>
<rect x="1872.6" y="490.98" width="39.4" height="4" fill="#ae342a"/>
<rect x="1897.8" y="490.98" width="14.2" height="4" fill="#1d6b18"/>
<rect x="1866.2" y="496.03" width="45.8" height="4" fill="#ae342a"/>
<rect x="1895.1" y="496.03" width="16.9" height="4" fill="#1d6b18"/>
<rect x="1823.2" y="501.09" width="88.8" height="4" fill="#ae342a"/>
<rect x="1868.1" y="501.09" width="43.9" height="4" fill="#1d6b18"/>
<rect x="1796.5" y="506.14" width="115.5" height="4" fill="#ae342a"/>
<rect x="1863.1" y="506.14" width="48.9" height="4" fill="#1d6b18"/>
<rect x="1869.4" y="511.2" width="42.6" height="4" fill="#ae342a"/>
<rect x="1902.1" y="511.2" width="9.9" height="4" fill="#1d6b18"/>
<rect x="1878.3" y="516.26" width="33.7" height="4" fill="#ae342a"/>
<rect x="1895.1" y="516.26" width="16.9" height="4" fill="#1d6b18"/>
<rect x="1872.2" y="521.31" width="39.8" height="4" fill="#ae342a"/>
<rect x="1904" y="521.31" width="8" height="4" fill="#1d6b18"/>
<rect x="1890.1" y="526.37" width="21.9" height="4" fill="#ae342a"/>
<rect x="1900.2" y="526.37" width="11.8" height="4" fill="#1d6b18"/>
<rect x="1877.2" y="531.42" width="34.8" height="4" fill="#ae342a"/>
<rect x="1882" y="531.42" width="30" height="4" fill="#1d6b18"/>
<rect x="1876.5" y="536.48" width="35.5" height="4" fill="#ae342a"/>
<rect x="1889.3" y="536.48" width="22.7" height="4" fill="#1d6b18"/>
<rect x="1880.2" y="541.53" width="31.8" height="4" fill="#ae342a"/>
<rect x="1902.9" y="541.53" width="9.1" height="4" fill="#1d6b18"/>
<rect x="1884.2" y="546.59" width="27.8" height="4" fill="#ae342a"/>
<rect x="1899.1" y="546.59" width="12.9" height="4" fill="#1d6b18"/>
<rect x="1870.3" y="551.64" width="41.7" height="4" fill="#ae342a"/>
<rect x="1894.1" y="551.64" width="17.9" height="4" fill="#1d6b18"/>
<rect x="1868.3" y="556.7" width="43.7" height="4" fill="#ae342a"/>
<rect x="1885" y="556.7" width="27" height="4" fill="#1d6b18"/>
<rect x="1873.6" y="561.76" width="38.4" height="4" fill="#ae342a"/>
<rect x="1891.1" y="561.76" width="20.9" height="4" fill="#1d6b18"/>
<rect x="1869.7" y="566.81" width="42.3" height="4" fill="#ae342a"/>
<rect x="1894.1" y="566.81" width="17.9" height="4" fill="#1d6b18"/>
<rect x="1861.2" y="571.87" width="50.8" height="4" fill="#ae342a"/>
<rect x="1878.3" y="571.87" width="33.7" height="4" fill="#1d6b18"/>
<rect x="1841.2" y="576.92" width="70.8" height="4" fill="#ae342a"/>
<rect x="1879" y="576.92" width="33" height="4" fill="#1d6b18"/>
<rect x="1901.8" y="581.98" width="10.2" height="4" fill="#ae342a"/>
<rect x="1911.1" y="581.98" width="0.9" height="4" fill="#1d6b18"/>
<rect x="1909.8" y="587.03" width="2.2" height="4" fill="#ae342a"/>
<rect x="1911" y="587.03" width="1" height="4" fill="#1d6b18"/>
<rect x="1901.3" y="592.09" width="10.7" height="4" fill="#ae342a"/>
<rect x="1906.1" y="592.09" width="5.9" height="4" fill="#1d6b18"/>
<rect x="1891.1" y="597.14" width="20.9" height="4" fill="#ae342a"/>
<rect x="1892.4" y="597.14" width="19.6" height="4" fill="#1d6b18"/>
<rect x="1870" y="602.2" width="42" height="4" fill="#ae342a"/>
<rect x="1880.6" y="602.2" width="31.4" height="4" fill="#1d6b18"/>
<rect x="1857.2" y="607.26" width="54.8" height="4" fill="#f04a3c"/>
<rect x="1886.1" y="607.26" width="25.9" height="4" fill="#27991f"/>
<rect x="1857.1" y="612.31" width="54.9" height="4" fill="#ae342a" fill-opacity="0.5"/>
<rect x="1881.5" y="612.31" width="30.5" height="4" fill="#1d6b18" fill-opacity="0.5"/>
<rect x="1821.1" y="617.37" width="90.9" height="4" fill="#ae342a" fill-opacity="0.5"/>
<rect x="1859" y="617.37" width="53" height="4" fill="#1d6b18" fill-opacity="0.5"/>
<rect x="1790" y="622.42" width="122" height="4" fill="#ae342a" fill-opacity="0.5"/>
<rect x="1846.2" y="622.42" width="65.8" height="4" fill="#1d6b18" fill-opacity="0.5"/>
<rect x="1814.1" y="627.48" width="97.9" height="4" fill="#ae342a" fill-opacity="0.5"/>
<rect x="1862.8" y="627.48" width="49.2" height="4" fill="#1d6b18" fill-opacity="0.5"/>
<rect x="1793.5" y="632.53" width="118.5" height="4" fill="#ae342a" fill-opacity="0.5"/>
<rect x="1844.3" y="632.53" width="67.7" height="4" fill="#1d6b18" fill-opacity="0.5"/>
<rect x="1788.8" y="637.59" width="123.2" height="4" fill="#ae342a" fill-opacity="0.5"/>
<rect x="1844.3" y="637.59" width="67.7" height="4" fill="#1d6b18" fill-opacity="0.5"/>
<rect x="1744.4" y="642.65" width="167.6" height="4" fill="#ae342a" fill-opacity="0.5"/>
<rect x="1827" y="642.65" width="85" height="4" fill="#1d6b18" fill-opacity="0.5"/>
<rect x="1758.3" y="647.7" width="153.7" height="4" fill="#ae342a" fill-opacity="0.5"/>
<rect x="1826.6" y="647.7" width="85.4" height="4" fill="#1d6b18" fill-opacity="0.5"/>
<rect x="1789.5" y="652.76" width="122.5" height="4" fill="#ae342a" fill-opacity="0.5"/>
<rect x="1859" y="652.76" width="53" height="4" fill="#1d6b18" fill-opacity="0.5"/>
<rect x="1828.2" y="657.81" width="83.8" height="4" fill="#ae342a" fill-opacity="0.5"/>
<rect x="1872.6" y="657.81" width="39.4" height="4" fill="#1d6b18" fill-opacity="0.5"/>
<rect x="1838.2" y="662.87" width="73.8" height="4" fill="#ae342a" fill-opacity="0.5"/>
<rect x="1888.7" y="662.87" width="23.3" height="4" fill="#1d6b18" fill-opacity="0.5"/>
<rect x="1849.2" y="667.92" width="62.8" height="4" fill="#ae342a" fill-opacity="0.5"/>
<rect x="1880.1" y="667.92" width="31.9" height="4" fill="#1d6b18" fill-opacity="0.5"/>
<rect x="1846.7" y="672.98" width="65.3" height="4" fill="#ae342a" fill-opacity="0.5"/>
<rect x="1877" y="672.98" width="35" height="4" fill="#1d6b18" fill-opacity="0.5"/>
<rect x="1770.1" y="678.03" width="141.9" height="4" fill="#ae342a" fill-opacity="0.5"/>
<rect x="1821.8" y="678.03" width="90.2" height="4" fill="#1d6b18" fill-opacity="0.5"/>
<rect x="1758.8" y="683.09" width="153.2" height="4" fill="#ae342a" fill-opacity="0.5"/>
<rect x="1830.5" y="683.09" width="81.5" height="4" fill="#1d6b18" fill-opacity="0.5"/>
<rect x="1751.9" y="688.15" width="160.1" height="4" fill="#ae342a" fill-opacity="0.5"/>
<rect x="1832.6" y="688.15" width="79.4" height="4" fill="#1d6b18" fill-opacity="0.5"/>
<rect x="1781.2" y="693.2" width="130.8" height="4" fill="#ae342a" fill-opacity="0.5"/>
<rect x="1853.2" y="693.2" width="58.8" height="4" fill="#1d6b18" fill-opacity="0.5"/>
<rect x="1811.1" y="698.26" width="100.9" height="4" fill="#ae342a" fill-opacity="0.5"/>
<rect x="1858" y="698.26" width="54" height="4" fill="#1d6b18" fill-opacity="0.5"/>
<rect x="1803.1" y="703.31" width="108.9" height="4" fill="#ae342a" fill-opacity="0.5"/>
<rect x="1857.1" y="703.31" width="54.9" height="4" fill="#1d6b18" fill-opacity="0.5"/>
<rect x="1860.3" y="708.37" width="51.7" height="4" fill="#ae342a" fill-opacity="0.5"/>
<rect x="1891.7" y="708.37" width="20.3" height="4" fill="#1d6b18" fill-opacity="0.5"/>
<rect x="1869" y="713.42" width="43" height="4" fill="#ae342a" fill-opacity="0.5"/>
<rect x="1887.9" y="713.42" width="24.1" height="4" fill="#1d6b18" fill-opacity="0.5"/>
<rect x="1872.9" y="718.48" width="39.1" height="4" fill="#ae342a" fill-opacity="0.5"/>
<rect x="1893" y="718.48" width="19" height="4" fill="#1d6b18" fill-opacity="0.5"/>
<rect x="1878.3" y="723.53" width="33.7" height="4" fill="#ae342a" fill-opacity="0.5"/>
<rect x="1899.9" y="723.53" width="12.1" height="4" fill="#1d6b18" fill-opacity="0.5"/>
<rect x="1874" y="728.59" width="38" height="4" fill="#ae342a" fill-opacity="0.5"/>
<rect x="1889" y="728.59" width="23" height="4" fill="#1d6b18" fill-opacity="0.5"/>
<rect x="1863.5" y="733.65" width="48.5" height="4" fill="#ae342a" fill-opacity="0.5"/>
<rect x="1894.1" y="733.65" width="17.9" height="4" fill="#1d6b18" fill-opacity="0.5"/>
<rect x="1894.1" y="738.7" width="17.9" height="4" fill="#ae342a" fill-opacity="0.5"/>
<rect x="1907.9" y="738.7" width="4.1" height="4" fill="#1d6b18" fill-opacity="0.5"/>
<rect x="1898.9" y="743.76" width="13.1" height="4" fill="#ae342a" fill-opacity="0.5"/>
<rect x="1905.9" y="743.76" width="6.1" height="4" fill="#1d6b18" fill-opacity="0.5"/>
<rect x="1907.2" y="748.81" width="4.8" height="4" fill="#ae342a" fill-opacity="0.5"/>
<rect x="1910" y="748.81" width="2" height="4" fill="#1d6b18" fill-opacity="0.5"/>
<rect x="1905.8" y="753.87" width="6.2" height="4" fill="#ae342a" fill-opacity="0.5"/>
<rect x="1907.4" y="753.87" width="4.6" height="4" fill="#1d6b18" fill-opacity="0.5"/>
<rect x="1904.5" y="758.92" width="7.5" height="4" fill="#ae342a" fill-opacity="0.5"/>
<rect x="1909" y="758.92" width="3" height="4" fill="#1d6b18" fill-opacity="0.5"/>
<rect x="1888.7" y="763.98" width="23.3" height="4" fill="#ae342a" fill-opacity="0.5"/>
<rect x="1899.7" y="763.98" width="12.3" height="4" fill="#1d6b18" fill-opacity="0.5"/>
<rect x="1893.3" y="769.04" width="18.7" height="4" fill="#ae342a" fill-opacity="0.5"/>
<rect x="1902.1" y="769.04" width="9.9" height="4" fill="#1d6b18" fill-opacity="0.5"/>
<rect x="1897.2" y="774.09" width="14.8" height="4" fill="#ae342a" fill-opacity="0.5"/>
<rect x="1908.2" y="774.09" width="3.8" height="4" fill="#1d6b18" fill-opacity="0.5"/>
<rect x="1905" y="779.15" width="7" height="4" fill="#ae342a" fill-opacity="0.5"/>
<rect x="1909.6" y="779.15" width="2.4" height="4" fill="#1d6b18" fill-opacity="0.5"/>
<rect x="1895.9" y="784.2" width="16.1" height="4" fill="#ae342a" fill-opacity="0.5"/>
<rect x="1901.8" y="784.2" width="10.2" height="4" fill="#1d6b18" fill-opacity="0.5"/>
<rect x="1907" y="789.26" width="5" height="4" fill="#ae342a" fill-opacity="0.5"/>
<rect x="1903.1" y="794.31" width="8.9" height="4" fill="#ae342a" fill-opacity="0.5"/>
<rect x="1889.2" y="187" width="8.9" height="4.2" fill="#eef2ff"/><rect x="1889.2" y="190.5" width="8.9" height="0.8" fill="#5b7be0"/><text x="1893.65" y="190.6" font-size="4.2" font-weight="bold" fill="#5b7be0" text-anchor="middle">VAH</text>
<rect x="1723.2" y="374.4" width="8.9" height="4.2" fill="#fffaea"/><rect x="1723.2" y="377.9" width="8.9" height="0.8" fill="#c4a040"/><text x="1727.65" y="378" font-size="4.2" font-weight="bold" fill="#c4a040" text-anchor="middle">POC</text>
<rect x="1848.2" y="606.9" width="8.9" height="4.2" fill="#fbeafb"/><rect x="1848.2" y="610.4" width="8.9" height="0.8" fill="#d070c8"/><text x="1852.65" y="610.5" font-size="4.2" font-weight="bold" fill="#d070c8" text-anchor="middle">VAL</text>
</g>
<rect x="8" y="880.5" width="1904" height="1" fill="#2c3047"/>
<rect x="8" y="904" width="1904" height="1" fill="#2c3047"/>
<rect x="960" y="881" width="1" height="24" fill="#2c3047"/>
<text x="465" y="897.5" font-size="13" font-weight="bold" fill="#4b6ed6" font-family="'Liberation Sans','Noto Sans CJK SC',sans-serif">信号点</text>
<text x="1436" y="897.3" font-size="13" fill="#a3a5b0" text-anchor="middle">Cum Delta</text>
<defs><clipPath id="cx"><rect x="8" y="905" width="1904" height="30"/></clipPath></defs><g clip-path="url(#cx)" font-size="12" fill="#5a5e70">
<text x="8" y="919" textLength="48.4" lengthAdjust="spacing" stroke="#5a5e70" stroke-width="0.35">07 14:30</text>
<text x="112.5" y="919" textLength="68" lengthAdjust="spacing" stroke="#5a5e70" stroke-width="0.35">02-07 15:00</text>
<text x="236.5" y="919" textLength="68" lengthAdjust="spacing" stroke="#5a5e70" stroke-width="0.35">02-07 21:30</text>
<text x="359.5" y="919" textLength="68" lengthAdjust="spacing" stroke="#5a5e70" stroke-width="0.35">02-07 22:00</text>
<text x="483.5" y="919" textLength="68" lengthAdjust="spacing" stroke="#5a5e70" stroke-width="0.35">02-07 22:30</text>
<text x="607.5" y="919" textLength="68" lengthAdjust="spacing" stroke="#5a5e70" stroke-width="0.35">02-07 23:00</text>
<text x="752.5" y="919" textLength="30" lengthAdjust="spacing" stroke="#5a5e70" stroke-width="0.35">09:30</text>
<text x="876" y="919" textLength="30" lengthAdjust="spacing" stroke="#5a5e70" stroke-width="0.35">10:00</text>
<text x="1000" y="919" textLength="30" lengthAdjust="spacing" stroke="#5a5e70" stroke-width="0.35">10:45</text>
<text x="1123.5" y="919" textLength="30" lengthAdjust="spacing" stroke="#5a5e70" stroke-width="0.35">11:15</text>
<text x="1247.5" y="919" textLength="30" lengthAdjust="spacing" stroke="#5a5e70" stroke-width="0.35">13:45</text>
<text x="1371" y="919" textLength="30" lengthAdjust="spacing" stroke="#5a5e70" stroke-width="0.35">14:15</text>
<text x="1494.5" y="919" textLength="30" lengthAdjust="spacing" stroke="#5a5e70" stroke-width="0.35">14:45</text>
<rect x="26.5" y="905" width="1" height="3" fill="#2c3047"/>
<rect x="150.28" y="905" width="1" height="3" fill="#2c3047"/>
<rect x="274.06" y="905" width="1" height="3" fill="#2c3047"/>
<rect x="397.84" y="905" width="1" height="3" fill="#2c3047"/>
<rect x="521.62" y="905" width="1" height="3" fill="#2c3047"/>
<rect x="645.4" y="905" width="1" height="3" fill="#2c3047"/>
<rect x="769.18" y="905" width="1" height="3" fill="#2c3047"/>
<rect x="892.96" y="905" width="1" height="3" fill="#2c3047"/>
<rect x="1016.74" y="905" width="1" height="3" fill="#2c3047"/>
<rect x="1140.52" y="905" width="1" height="3" fill="#2c3047"/>
<rect x="1264.3" y="905" width="1" height="3" fill="#2c3047"/>
<rect x="1388.08" y="905" width="1" height="3" fill="#2c3047"/>
<rect x="1511.86" y="905" width="1" height="3" fill="#2c3047"/>
</g>
</svg></body></html>
